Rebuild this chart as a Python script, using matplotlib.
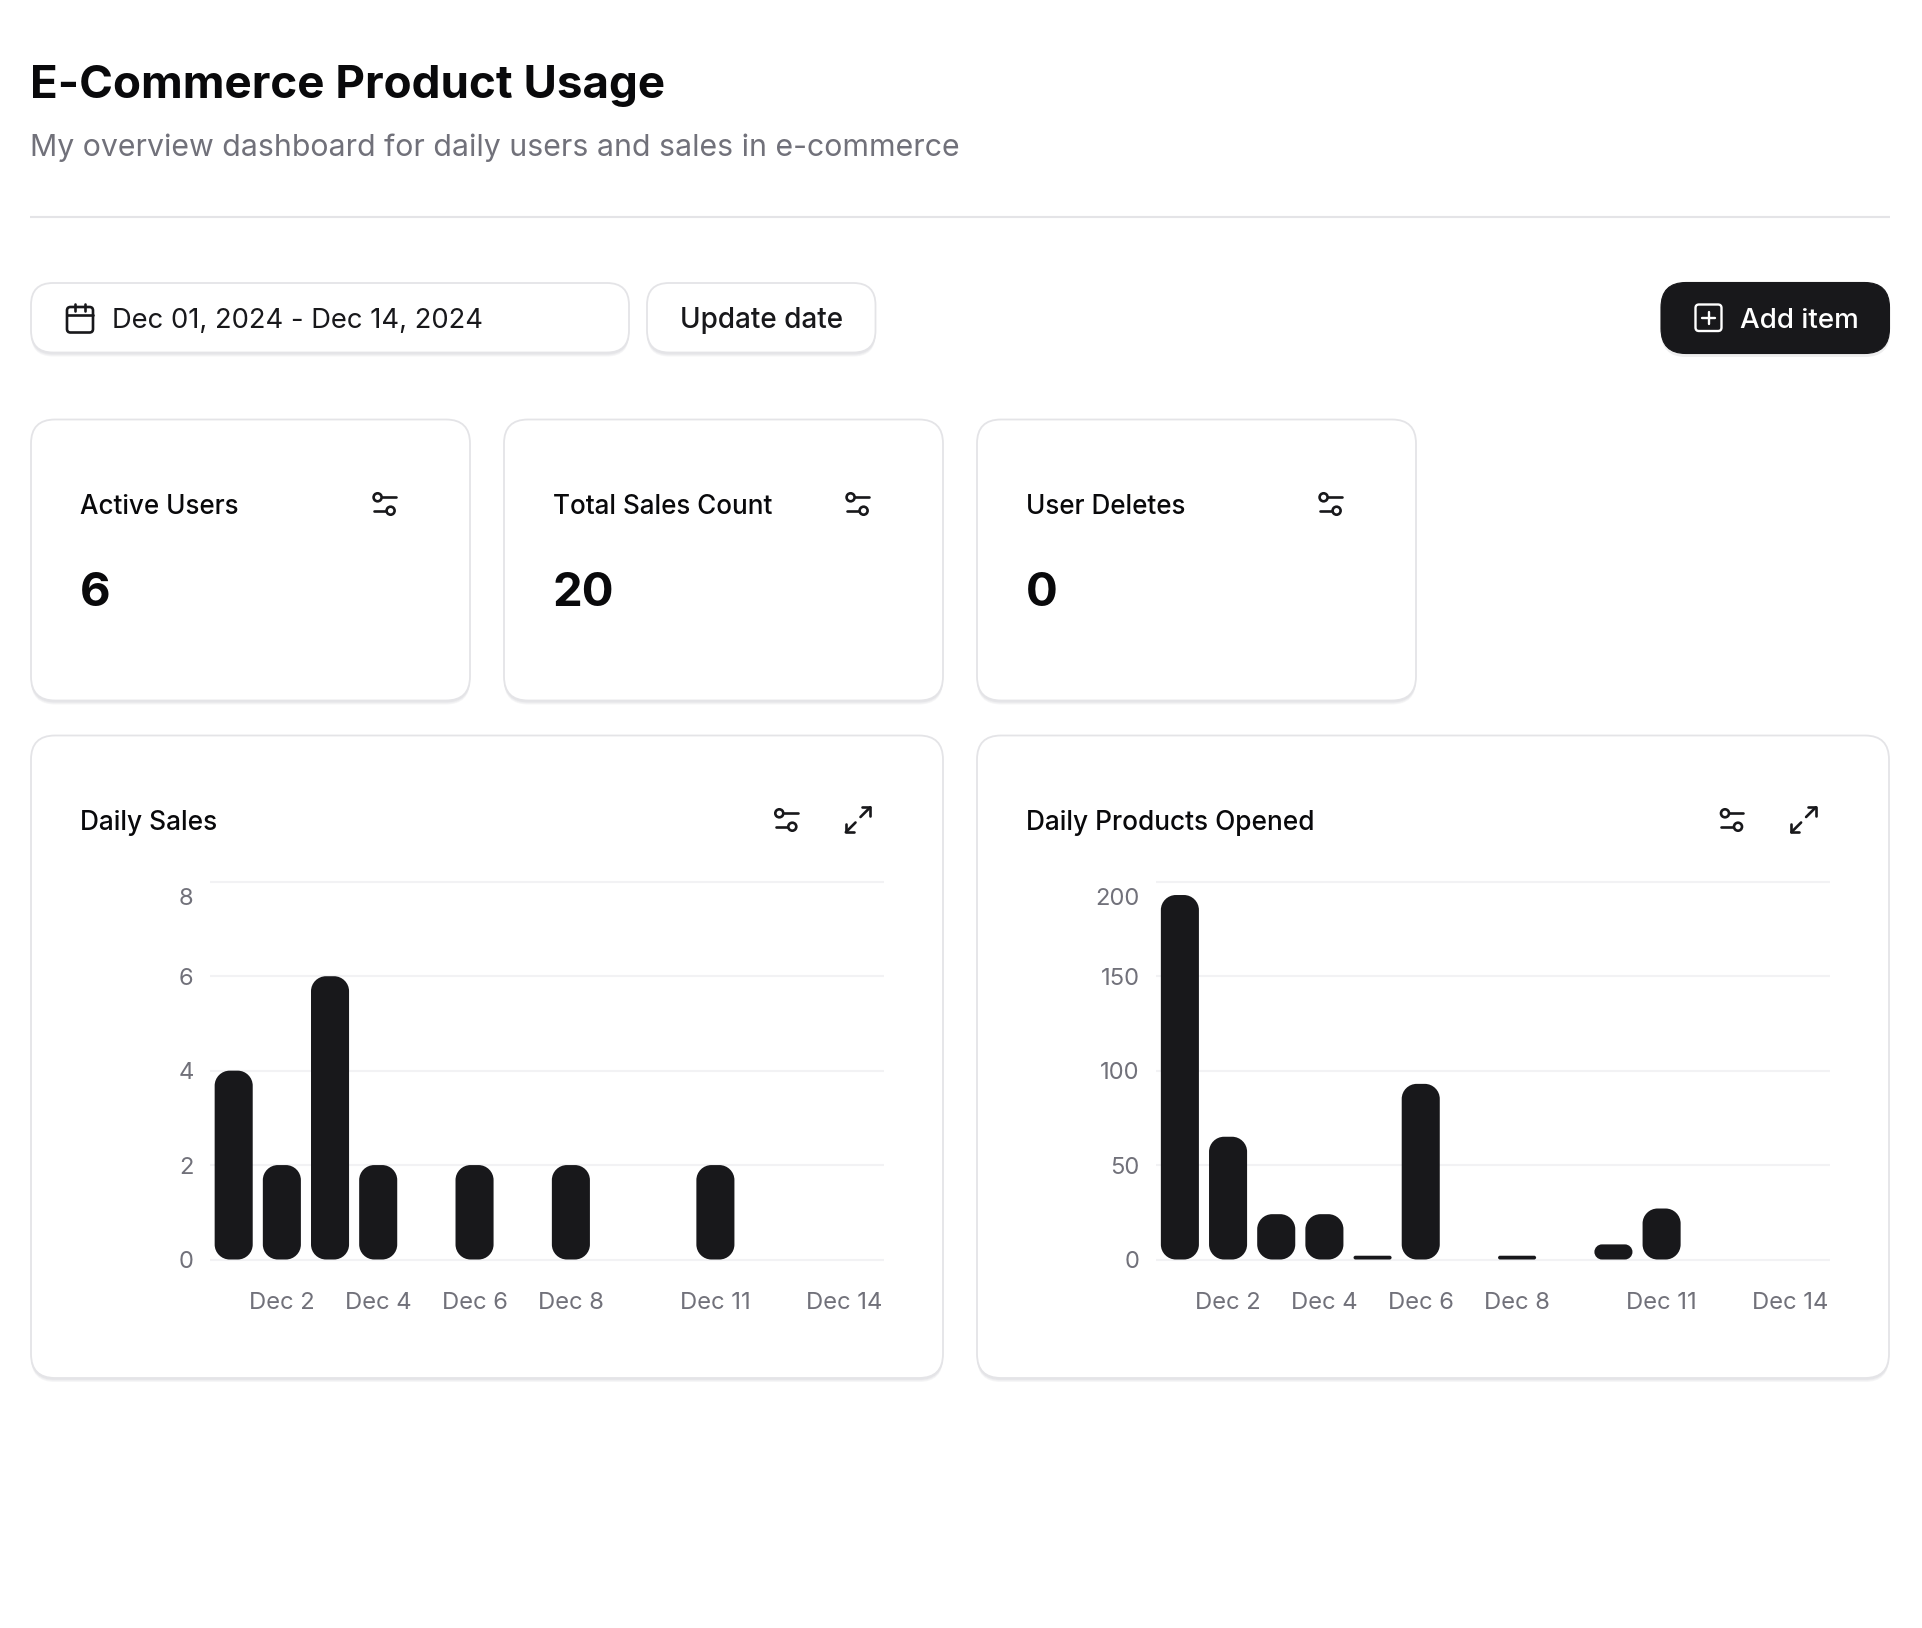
import matplotlib
matplotlib.use("Agg")
import matplotlib.pyplot as plt
from matplotlib.patches import FancyBboxPatch, PathPatch, Circle
from matplotlib.path import Path
from matplotlib.transforms import ScaledTranslation

plt.rcParams['font.family'] = ['Inter', 'DejaVu Sans']

W, H = 1922, 1628
DARK = '#18181b'
GRAY = '#71717a'
BORDER = '#e4e4e7'

title = "E-Commerce Product Usage"
subtitle = "My overview dashboard for daily users and sales in e-commerce"
date_range = "Dec 01, 2024 - Dec 14, 2024"
days = ["Dec %d" % d for d in range(1, 15)]
daily_sales = [4, 2, 6, 2, 0, 2, 0, 2, 0, 0, 2, 0, 0, 0]
daily_opened = [193, 65, 24, 24, 2, 93, 0, 2, 0, 8, 27, 0, 0, 0]
sales_yticks = [0, 2, 4, 6, 8]
opened_yticks = [0, 50, 100, 150, 200]
xtick_days = ["Dec 2", "Dec 4", "Dec 6", "Dec 8", "Dec 11", "Dec 14"]
kpi_names = ["Active Users", "Total Sales Count", "User Deletes"]
kpi_values = ["6", "20", "0"]

fig = plt.figure(figsize=(W / 100, H / 100), dpi=100, facecolor='white')
bg = fig.add_axes([0, 0, 1, 1], zorder=0)
bg.set_xlim(0, W)
bg.set_ylim(H, 0)
bg.axis('off')


def box(x0, y0, x1, y1, r, fc='white', ec=BORDER, shadow=True, lw=1.3):
    if shadow:
        for dy, col in [(4, '#f6f6f7'), (3, '#efeff1'), (2, '#e6e6e9')]:
            bg.add_patch(FancyBboxPatch((x0, y0 + dy), x1 - x0, y1 - y0,
                                        boxstyle=f"round,pad=0,rounding_size={r}",
                                        fc=col, ec='none', zorder=1))
    bg.add_patch(FancyBboxPatch((x0, y0), x1 - x0, y1 - y0, boxstyle=f"round,pad=0,rounding_size={r}",
                                fc=fc, ec=ec, lw=lw, zorder=2))


def line(pts, color=DARK, lw=1.9):
    xs, ys = zip(*pts)
    bg.plot(xs, ys, color=color, lw=lw, solid_capstyle='round', solid_joinstyle='round', zorder=4)


def sliders(cx, cy):
    line([(cx - 3, cy - 6.7), (cx + 11, cy - 6.7)])
    line([(cx - 11, cy + 6.7), (cx + 1.5, cy + 6.7)])
    bg.add_patch(Circle((cx - 7.4, cy - 6.7), 4, fc='white', ec=DARK, lw=1.9, zorder=5))
    bg.add_patch(Circle((cx + 5.6, cy + 6.7), 4, fc='white', ec=DARK, lw=1.9, zorder=5))


def expand(cx, cy):
    line([(cx + 2.5, cy - 3), (cx + 12.2, cy - 12.7)])
    line([(cx + 4.2, cy - 12.7), (cx + 12.2, cy - 12.7), (cx + 12.2, cy - 4.2)])
    line([(cx - 12.2, cy + 12.2), (cx - 2.5, cy + 2.5)])
    line([(cx - 12.2, cy + 4.2), (cx - 12.2, cy + 12.2), (cx - 4.2, cy + 12.2)])


def txt(x, y, s, size, color=DARK, weight='normal', **kw):
    bg.text(x, y, s, fontsize=size, color=color, fontweight=weight, va='baseline', zorder=6, **kw)


# Header
txt(30.5, 98, title, 32.95, color='#09090b', weight='bold')
txt(30.5, 156, subtitle, 21.8, color=GRAY)
bg.plot([30, 1890], [217, 217], color=BORDER, lw=1.5, zorder=2, solid_capstyle='butt')

# Toolbar
box(31, 283, 629, 352.5, 22)
box(647, 283, 875.5, 352.5, 22)
bg.add_patch(FancyBboxPatch((1661, 286), 229, 71, boxstyle="round,pad=0,rounding_size=25",
                            fc='#eeeeef', ec='none', zorder=1))
box(1661, 282.5, 1889.5, 353.5, 25, fc=DARK, ec=DARK, shadow=False, lw=0.8)
txt(112, 328, date_range, 19.7)
txt(680, 328, "Update date", 20.1, weight='medium')
txt(1740, 328, "Add item", 20.0, color='white', weight='medium')

# Calendar icon
bg.add_patch(FancyBboxPatch((67, 307), 26, 25.5, boxstyle="round,pad=0,rounding_size=3.5",
                            fc='none', ec=DARK, lw=1.9, zorder=4))
line([(67, 314.5), (93, 314.5)])
line([(74.7, 304), (74.7, 310.5)])
line([(84.7, 304), (84.7, 310.5)])

# Plus icon
bg.add_patch(FancyBboxPatch((1695.5, 304.5), 26, 26.5, boxstyle="round,pad=0,rounding_size=3.5",
                            fc='none', ec='white', lw=1.7, zorder=4))
line([(1708.5, 311.5), (1708.5, 324)], color='white', lw=1.7)
line([(1702, 317.7), (1715, 317.7)], color='white', lw=1.7)

# KPI cards
kpi_x = [31, 504, 977]
for x0, name, val in zip(kpi_x, kpi_names, kpi_values):
    box(x0, 419.5, x0 + 439, 700.5, 24)
    txt(x0 + 49, 513.5, name, 18.75, color='#09090b', weight='medium')
    txt(x0 + 48.7, 606, val, 34.0, color='#09090b', weight='bold')
    sliders(x0 + 354, 504)

# Chart cards
for x0, t, sx, ex in [(31, "Daily Sales", 786.7, 858), (977, "Daily Products Opened", 1732.4, 1803.6)]:
    box(x0, 735.5, x0 + 912, 1378, 24)
    txt(x0 + 49, 830.5, t, 18.9, color='#09090b', weight='medium')
    sliders(sx, 820)
    expand(ex, 820)


def rounded_bar_path(ax, x0, w, h, radius=15):
    p0 = ax.transData.transform((0, 0))
    p1 = ax.transData.transform((1, 1))
    sx, sy = p1[0] - p0[0], p1[1] - p0[1]
    r = min(radius, h * sy / 2, w * sx / 2)
    rx, ry = r / sx, r / sy
    x1 = x0 + w
    k = 0.45
    v = [(x0, ry), (x0, h - ry), (x0, h - ry * k), (x0 + rx * k, h), (x0 + rx, h),
         (x1 - rx, h), (x1 - rx * k, h), (x1, h - ry * k), (x1, h - ry),
         (x1, ry), (x1, ry * k), (x1 - rx * k, 0), (x1 - rx, 0),
         (x0 + rx, 0), (x0 + rx * k, 0), (x0, ry * k), (x0, ry), (x0, ry)]
    c = [Path.MOVETO, Path.LINETO, Path.CURVE4, Path.CURVE4, Path.CURVE4,
         Path.LINETO, Path.CURVE4, Path.CURVE4, Path.CURVE4,
         Path.LINETO, Path.CURVE4, Path.CURVE4, Path.CURVE4,
         Path.LINETO, Path.CURVE4, Path.CURVE4, Path.CURVE4, Path.CLOSEPOLY]
    return Path(v, c)


def chart(left, values, yticks):
    right = left + 674.4
    top, bottom = 881.8, 1259.5
    ax = fig.add_axes([left / W, 1 - bottom / H, (right - left) / W, (bottom - top) / H], zorder=3)
    ax.patch.set_alpha(0)
    ax.set_xlim(-0.5, len(days) - 0.5)
    ax.set_ylim(yticks[0], yticks[-1])
    for s in ax.spines.values():
        s.set_visible(False)
    ax.grid(axis='y', color='#f2f2f4', lw=1.5, clip_on=False, zorder=0, solid_capstyle='butt')
    ax.set_axisbelow(True)
    ax.set_yticks(yticks)
    ax.set_xticks([days.index(d) for d in xtick_days])
    ax.set_xticklabels(xtick_days)
    ax.tick_params(axis='both', length=0, labelsize=17.1, labelcolor=GRAY)
    ax.tick_params(axis='y', pad=11.5)
    ax.tick_params(axis='x', pad=23.2)
    bars = ax.bar(range(len(days)), values, width=0.79, alpha=0)
    for rect, v in zip(bars, values):
        if v > 0:
            ax.add_patch(PathPatch(rounded_bar_path(ax, rect.get_x(), rect.get_width(), rect.get_height()),
                                   fc=DARK, ec='none', zorder=3))
    ylabels = ax.get_yticklabels()
    ylabels[-1].set_transform(ylabels[-1].get_transform() + ScaledTranslation(0, -14.5 / 100, fig.dpi_scale_trans))
    xlabels = ax.get_xticklabels()
    xlabels[-1].set_transform(xlabels[-1].get_transform() + ScaledTranslation(-16 / 100, 0, fig.dpi_scale_trans))
    return ax


chart(209.6, daily_sales, sales_yticks)
chart(1155.8, daily_opened, opened_yticks)

fig.savefig("out.png", dpi=100, facecolor='white')
